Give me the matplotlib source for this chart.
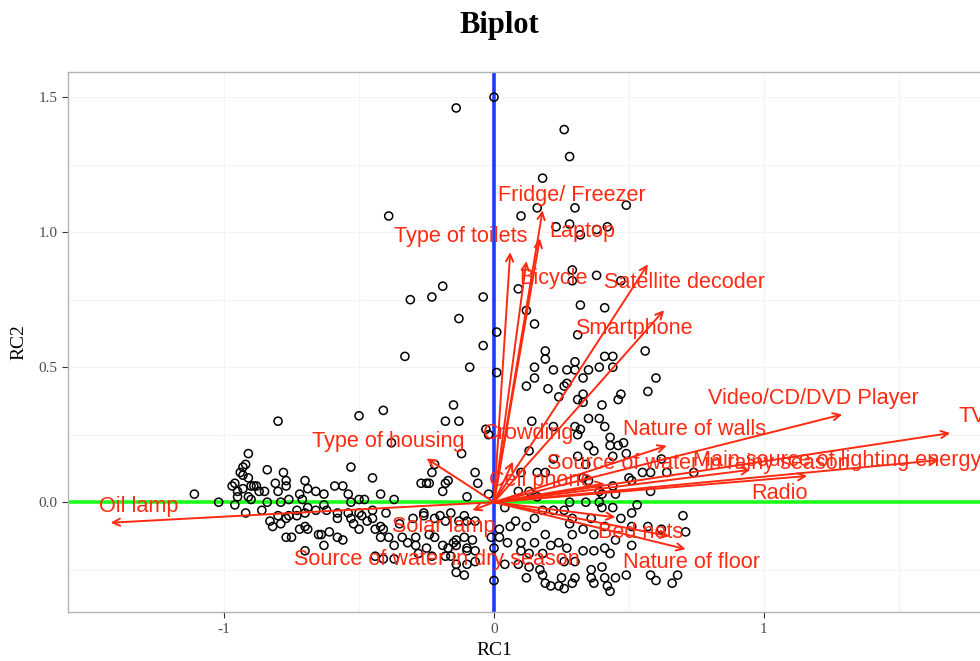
import matplotlib.pyplot as plt
import numpy as np

# scores (RC1, RC2)
rc1 = [0.00, -0.14, 0.26, 0.28, 0.18, -0.39, 0.10, 0.16, 0.30, 0.49, 0.23, 0.28, 0.32, 0.38, 0.42,
       0.29, 0.29, 0.38, 0.47, -0.19, -0.23, -0.31, -0.04, 0.09,
       -0.13, 0.01, -0.04, -0.33, -0.09, 0.01, -0.15, -0.41, -0.50, -0.18, -0.13, -0.03, -0.02, -0.80,
       0.32, 0.41, 0.12, 0.15, 0.31, 0.19, 0.19, 0.56, 0.30, 0.41, 0.44, 0.15, 0.22, 0.27, 0.30, 0.35,
       0.39, 0.44, 0.15, 0.33, 0.60, 0.12, 0.20, 0.27, 0.26, 0.33, 0.24, 0.31, 0.33, 0.46, 0.47, 0.57,
       0.40, 0.14, 0.35, 0.39, 0.22, 0.30, 0.32, 0.41, 0.43, 0.31,
       0.35, 0.37, 0.43, 0.46, 0.48, 0.44, 0.49, 0.13, 0.22, 0.31, 0.34, 0.62, 0.55, 0.58, 0.64, 0.74,
       0.10, 0.16, 0.19, 0.33, 0.35, 0.50, 0.51, 0.58, 0.44, 0.39, 0.40, 0.45, 0.09, 0.13, 0.16, 0.53,
       0.34, 0.39, 0.28, 0.04, 0.22, 0.26, 0.40, 0.44, 0.18, 0.51, 0.70, 0.29, 0.36, 0.47, 0.15, 0.08,
       0.06, 0.12, 0.28, 0.33, 0.41, 0.51, 0.57, 0.62, 0.71, 0.02, 0.02, 0.19, 0.29, 0.37, 0.45, 0.05,
       0.10, 0.15, 0.21, 0.24, 0.27, 0.33, 0.37, 0.41, 0.51, 0.43, 0.10, 0.13, 0.18, 0.04, 0.09, 0.13,
       0.17, 0.26, 0.30, 0.36, 0.40, 0.49, 0.58, 0.12, 0.18, 0.25, 0.30, 0.36, 0.41, 0.45, 0.60, 0.68,
       0.66, 0.19, 0.21, 0.24, 0.29, 0.37, 0.42, 0.43, 0.26, 0.00,
       -0.38, -0.12, -0.53, -0.22, -0.23, -0.45, -0.07, -0.06, -0.27, -0.25, -0.24, -0.18, -0.17, -0.19,
       -0.42, -0.59, -0.56, -0.54, -0.10, -0.02, -0.63, -0.50, -0.48, -0.37, -0.53, -0.62, -0.58, -0.54,
       -0.50, -0.45, -0.40, -0.26, -0.16, -0.58, -0.53, -0.49, -0.45, -0.30, -0.26, -0.22, -0.20, -0.11,
       -0.10, -0.52, -0.47, -0.42, -0.35, -0.18, -0.13, -0.07, -0.50, -0.44, -0.41, -0.61, -0.64, -0.58,
       -0.56, -0.42, -0.39, -0.34, -0.29, -0.24, -0.22, -0.14, -0.11, -0.08, -0.01, -0.63, -0.37, -0.32,
       -0.29, -0.25, -0.19, -0.17, -0.15, -0.14, -0.10, -0.07, 0.00, -0.44, -0.41, -0.37, -0.28, -0.23,
       -0.18, -0.16, -0.10, -0.14, -0.10, -0.07, -0.14, -0.11,
       -0.91, -0.92, -0.93, -0.94, -0.84, -0.78, -0.91, -0.96, -0.93, -0.90, -0.89, -0.87, -0.85, -0.81,
       -0.80, -0.77, -0.77, -0.70, -0.69, -0.66, -1.11, -1.02, -0.96, -0.95, -0.91, -0.90, -0.84, -0.79,
       -0.76, -0.72, -0.71, -0.63, -0.92, -0.86, -0.83, -0.82, -0.80, -0.77, -0.76, -0.73, -0.73, -0.70,
       -0.69, -0.66, -0.79, -0.72, -0.70, -0.69, -0.77, -0.75, -0.65, -0.70, -0.97, -0.95, -0.93, -0.88]
rc2 = [1.50, 1.46, 1.38, 1.28, 1.20, 1.06, 1.06, 1.09, 1.09, 1.10, 1.02, 1.03, 0.99, 1.01, 1.02,
       0.86, 0.82, 0.84, 0.82, 0.80, 0.76, 0.75, 0.76, 0.79,
       0.68, 0.63, 0.58, 0.54, 0.50, 0.48, 0.36, 0.34, 0.32, 0.30, 0.30, 0.27, 0.25, 0.30,
       0.73, 0.72, 0.71, 0.66, 0.62, 0.56, 0.53, 0.56, 0.52, 0.54, 0.54, 0.50, 0.49, 0.49, 0.49, 0.49,
       0.50, 0.50, 0.46, 0.46, 0.46, 0.43, 0.42, 0.44, 0.43, 0.40, 0.39, 0.38, 0.37, 0.38, 0.40, 0.41,
       0.36, 0.30, 0.31, 0.31, 0.28, 0.28, 0.27, 0.28, 0.24, 0.25,
       0.21, 0.19, 0.21, 0.21, 0.22, 0.17, 0.18, 0.19, 0.16, 0.17, 0.14, 0.16, 0.11, 0.11, 0.11, 0.11,
       0.11, 0.11, 0.11, 0.09, 0.08, 0.09, 0.08, 0.04, 0.06, 0.04, 0.03, 0.03, 0.04, 0.04, 0.02, -0.01,
       0.00, 0.00, 0.00, -0.02, -0.03, -0.03, -0.02, -0.02, -0.03, -0.04, -0.05, -0.06, -0.06, -0.06, -0.06, -0.07,
       -0.09, -0.09, -0.08, -0.10, -0.09, -0.09, -0.09, -0.10, -0.11, -0.10, -0.13, -0.12, -0.12, -0.12, -0.14, -0.15,
       -0.15, -0.15, -0.16, -0.15, -0.17, -0.18, -0.18, -0.17, -0.16, -0.19, -0.18, -0.19, -0.19, -0.23, -0.23, -0.24,
       -0.25, -0.22, -0.22, -0.25, -0.24, -0.27, -0.27, -0.28, -0.27, -0.28, -0.28, -0.28, -0.28, -0.28, -0.29, -0.27,
       -0.30, -0.30, -0.31, -0.31, -0.30, -0.30, -0.31, -0.33, -0.32, -0.29,
       0.22, 0.18, 0.13, 0.14, 0.11, 0.09, 0.11, 0.07, 0.07, 0.07, 0.07, 0.07, 0.08, 0.04,
       0.03, 0.06, 0.06, 0.03, 0.02, 0.03, 0.03, 0.01, 0.01, 0.01, 0.00, -0.03, -0.04, -0.04,
       -0.04, -0.03, -0.04, -0.04, -0.04, -0.06, -0.06, -0.05, -0.06, -0.06, -0.05, -0.06, -0.05, -0.05,
       -0.07, -0.08, -0.07, -0.09, -0.08, -0.07, -0.07, -0.07, -0.10, -0.10, -0.10, -0.11, -0.12, -0.13,
       -0.14, -0.13, -0.13, -0.13, -0.13, -0.12, -0.13, -0.14, -0.13, -0.14, -0.13, -0.16, -0.16, -0.15,
       -0.16, -0.17, -0.16, -0.17, -0.15, -0.16, -0.17, -0.18, -0.17, -0.20, -0.21, -0.21, -0.19, -0.20,
       -0.20, -0.20, -0.18, -0.23, -0.23, -0.22, -0.26, -0.27,
       0.18, 0.14, 0.13, 0.11, 0.12, 0.11, 0.09, 0.07, 0.05, 0.06, 0.06, 0.04, 0.04, 0.07,
       0.04, 0.08, 0.06, 0.08, 0.05, 0.04, 0.03, 0.00, -0.01, 0.02, 0.02, 0.01, 0.00, 0.00,
       0.01, 0.03, 0.01, -0.01, -0.04, -0.03, -0.07, -0.09, -0.05, -0.06, -0.05, -0.05, -0.03, -0.04,
       -0.02, -0.03, -0.08, -0.10, -0.09, -0.10, -0.13, -0.13, -0.12, -0.18, 0.06, 0.04, 0.10, 0.06]

# variable loadings: arrow tips and label positions
var_names = ['Oil lamp', 'TV', 'Video/CD/DVD Player', 'Main source of lighting energy', 'Radio',
             'Source of water in rainy season', 'Nature of walls', 'Cell phone', 'Crowding',
             'Type of housing', 'Solar lamp', 'Source of water in dry season', 'Bed nets',
             'Nature of floor', 'Fridge/ Freezer', 'Laptop', 'Type of toilets', 'Bicycle',
             'Satellite decoder', 'Smartphone']
arrow_x = [-1.42, 1.69, 1.29, 1.65, 1.16, 0.95, 0.64, 0.41, 0.07, -0.25, -0.08, 0.65, 0.45,
           0.71, 0.18, 0.17, 0.06, 0.12, 0.57, 0.63]
arrow_y = [-0.076, 0.256, 0.325, 0.156, 0.097, 0.12, 0.209, 0.069, 0.15, 0.162, -0.03, -0.126,
           -0.056, -0.174, 1.081, 0.977, 0.926, 0.893, 0.881, 0.711]
label_x = [-1.316, 1.719, 1.183, 0.738, 1.056, 0.195, 0.744, 0.174, 0.127, -0.391, -0.188, -0.212,
           0.544, 0.733, 0.288, 0.328, -0.123, 0.221, 0.706, 0.519]
label_y = [-0.017, 0.316, 0.384, 0.156, 0.032, 0.143, 0.269, 0.081, 0.254, 0.223, -0.091, -0.212,
           -0.114, -0.222, 1.134, 1.001, 0.985, 0.828, 0.815, 0.643]
label_ha = ['center', 'left', 'center', 'left', 'center', 'left', 'center', 'center', 'center',
            'center', 'center', 'center', 'center', 'center', 'center', 'center', 'center',
            'center', 'center', 'center']

red = '#ff2a12'

fig = plt.figure(figsize=(9.8, 6.61), dpi=100)
ax = fig.add_axes([0.0694, 0.074, 0.96, 0.817])

ax.set_xlim(-1.578, 1.907)
ax.set_ylim(-0.407, 1.593)

ax.axhline(0, color='#1aff1a', lw=2.6, zorder=1)
ax.axvline(0, color='#1a3cff', lw=2.6, zorder=1)

ax.scatter(rc1, rc2, s=34, facecolors='none', edgecolors='black', linewidths=1.1, zorder=2)

for i in range(len(var_names)):
    ax.annotate('', xy=(arrow_x[i], arrow_y[i]), xytext=(0, 0),
                arrowprops=dict(arrowstyle='->', color=red, lw=1.4, mutation_scale=13,
                                shrinkA=0, shrinkB=0), zorder=3)
    ax.text(label_x[i], label_y[i], var_names[i], color=red, fontsize=15.6,
            family='Liberation Sans', ha=label_ha[i], va='center', zorder=4)

ax.set_xticks([-1, 0, 1])
ax.set_xticklabels(['-1', '0', '1'])
ax.set_yticks([0.0, 0.5, 1.0, 1.5])
ax.set_yticklabels(['0.0', '0.5', '1.0', '1.5'])
ax.set_xticks([-0.5, 0.5, 1.5], minor=True)
ax.set_yticks([-0.25, 0.25, 0.75, 1.25], minor=True)
ax.grid(True, which='both', color='#f3f3f3', lw=0.8, zorder=0)
ax.set_axisbelow(True)
ax.tick_params(which='major', direction='out', length=4, color='#333333', labelcolor='#4d4d4d',
               labelsize=11, labelfontfamily='Liberation Serif')
ax.tick_params(which='minor', length=0)
for s in ax.spines.values():
    s.set_color('#b3b3b3')
    s.set_linewidth(1.0)

ax.set_xlabel('RC1', family='Liberation Serif', fontsize=14)
ax.xaxis.set_label_coords(0.4528, -0.055)
ax.set_ylabel('RC2', family='Liberation Serif', fontsize=14, labelpad=8)
fig.text(0.51, 0.962, 'Biplot', family='Liberation Serif', fontsize=22, fontweight='bold',
         ha='center', va='center')

fig.savefig('out.png', dpi=100)
